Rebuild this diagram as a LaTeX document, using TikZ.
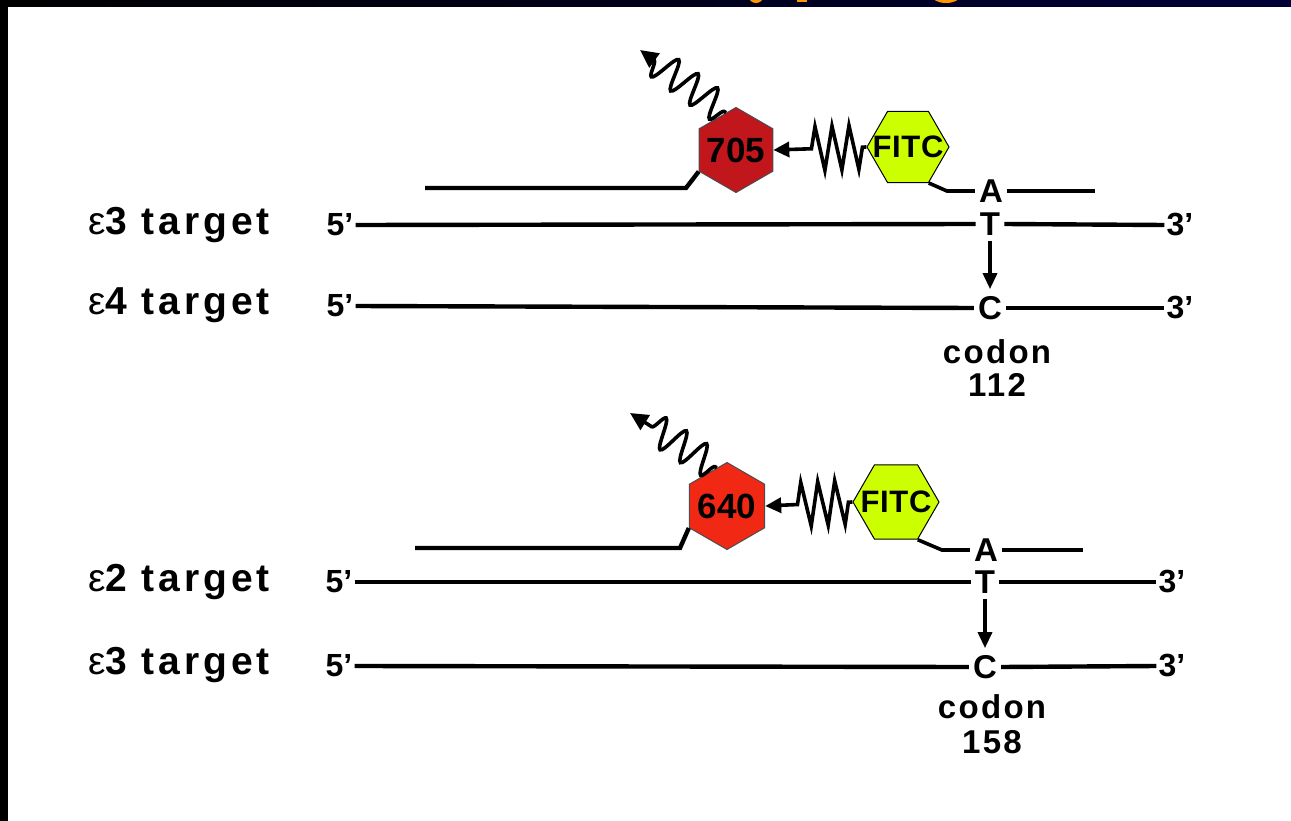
\documentclass[tikz,border=0pt]{standalone}
\usepackage{fontspec}
\setmainfont{Liberation Sans}
\usetikzlibrary{shapes.geometric,decorations.pathmorphing,arrows.meta}
\definecolor{redA}{RGB}{192,22,28}
\definecolor{redB}{RGB}{240,40,20}
\definecolor{fitc}{RGB}{204,255,0}
\definecolor{navy}{RGB}{0,0,55}
\definecolor{ttl}{RGB}{255,150,0}
\newfontfamily\spaced[LetterSpace=7]{Liberation Sans}
\newfontfamily\widespaced[LetterSpace=10]{Liberation Sans}
\newfontfamily\narrowspaced[LetterSpace=2]{Liberation Sans}
\begin{document}
\begin{tikzpicture}[x=1pt,y=-1pt,
  strand/.style={line width=4.4pt},
  lab/.style={font=\widespaced\fontsize{39}{40}\selectfont\bfseries, anchor=west, inner sep=0pt},
  prime/.style={font=\fontsize{32}{34}\selectfont\bfseries, inner sep=2pt},
  basenode/.style={font=\fontsize{33}{34}\selectfont\bfseries, inner xsep=4pt, inner ysep=2pt},
  codontext/.style={font=\spaced\fontsize{33}{34}\selectfont\bfseries, inner sep=0pt},
  dyehex/.style={regular polygon, regular polygon sides=6, shape border rotate=30, draw=black!70, line width=1pt, inner sep=0pt},
  fitchex/.style={regular polygon, regular polygon sides=6, draw=black, fill=fitc, line width=1pt, inner sep=0pt},
  dyelab/.style={font=\fontsize{35}{36}\selectfont\bfseries, inner sep=0pt},
  fitclab/.style={font=\narrowspaced\fontsize{31}{32}\selectfont\bfseries, inner sep=0pt},
  wave/.style={line width=3.6pt, -{Triangle[length=18pt,width=17pt]}, decorate, decoration={snake, amplitude=15pt, segment length=24pt, pre length=2pt, post length=14pt}},
  spring/.style={line width=3.6pt, -{Triangle[length=16pt,width=15pt]}, decorate, decoration={zigzag, amplitude=22pt, segment length=17pt, pre length=4pt, post length=30pt}},
  snp/.style={line width=3.4pt, -{Triangle[length=16pt,width=14pt]}, shorten <=3pt, shorten >=5pt},
  link/.style={line width=3.6pt}]
\path[use as bounding box] (0,0) rectangle (1291,821);
\fill[white] (0,0) rectangle (1291,821);
% frame
\shade[left color=black, right color=navy] (0,0) rectangle (1291,7);
\fill[black] (0,0) rectangle (8,821);
\begin{scope}
  \clip (0,0) rectangle (1291,7);
  \fill[ttl] (756,-3) ellipse [x radius=7pt, y radius=6pt];
  \fill[ttl] (797,-3) rectangle (807,2);
  \fill[ttl] (946,-4) ellipse [x radius=14pt, y radius=7pt];
\end{scope}

% ---------- upper panel ----------
\node[lab] (l1) at (88,225) {{\mdseries ε}3 target};
\node[lab] (l2) at (88,305) {{\mdseries ε}4 target};
\node[prime] (p1) at (340,225) {5’};
\node[prime] (p2) at (340,306) {5’};
\node[basenode] (T1) at (990,224) {T};
\node[basenode] (C1) at (990,308) {C};
\node[basenode] (A1) at (991,191) {A};
\node[prime] (q1) at (1180,225) {3’};
\node[prime] (q2) at (1180,308) {3’};
\coordinate (pe1) at (1095,193);
\draw[strand] (p1.east) -- (T1.west);
\draw[strand] (T1.east) -- (q1.west);
\draw[strand] (p2.east) -- (C1.west);
\draw[strand] (C1.east) -- (q2.west);
\draw[snp] (T1.south) -- (C1.north);
\node[codontext] (cd1) at (997,352) {codon};
\node[codontext] (n1) at (997,385) {112};

\node[dyehex, fill=redA, minimum size=85pt] (r1) at (736,150) {};
\node[dyelab] (r1t) at (r1.center) {705};
\node[fitchex, minimum size=82pt] (f1) at (908,147) {};
\node[fitclab] (f1t) at (f1.center) {FITC};
\coordinate (pl1) at (425,188);
\draw[strand] (pl1) -- (686,188) -- (r1.210);
\draw[link] (f1.300) -- ([xshift=-28pt]A1.west) -- (A1.west);
\draw[strand] (A1.east) -- (A1.east -| pe1);
\coordinate (tip1) at (640,50);
\draw[wave] (r1.105) -- (tip1);
\draw[spring] (f1.west) -- (r1.east);

% ---------- lower panel ----------
\node[lab] (l3) at (88,582) {{\mdseries ε}2 target};
\node[lab] (l4) at (88,665) {{\mdseries ε}3 target};
\node[prime] (p3) at (339,582) {5’};
\node[prime] (p4) at (339,666) {5’};
\node[basenode] (T2) at (985,582) {T};
\node[basenode] (C2) at (985,667) {C};
\node[basenode] (A2) at (986,550) {A};
\node[prime] (q3) at (1172,582) {3’};
\node[prime] (q4) at (1172,666) {3’};
\coordinate (pe2) at (1083,551);
\draw[strand] (p3.east) -- (T2.west);
\draw[strand] (T2.east) -- (q3.west);
\draw[strand] (p4.east) -- (C2.west);
\draw[strand] (C2.east) -- (q4.west);
\draw[snp] (T2.south) -- (C2.north);
\node[codontext] (cd2) at (992,707) {codon};
\node[codontext] (n2) at (992,742) {158};

\node[dyehex, fill=redB, minimum size=87pt] (r2) at (727,506) {};
\node[dyelab] (r2t) at (r2.center) {640};
\node[fitchex, minimum size=86pt] (f2) at (896,502) {};
\node[fitclab] (f2t) at (f2.center) {FITC};
\coordinate (pl2) at (415,548);
\draw[strand] (pl2) -- (680,548) -- (r2.210);
\draw[link] (f2.300) -- ([xshift=-28pt]A2.west) -- (A2.west);
\draw[strand] (A2.east) -- (A2.east -| pe2);
\coordinate (tip2) at (630,413);
\draw[wave] (r2.105) -- (tip2);
\draw[spring] (f2.west) -- (r2.east);
\end{tikzpicture}
\end{document}
